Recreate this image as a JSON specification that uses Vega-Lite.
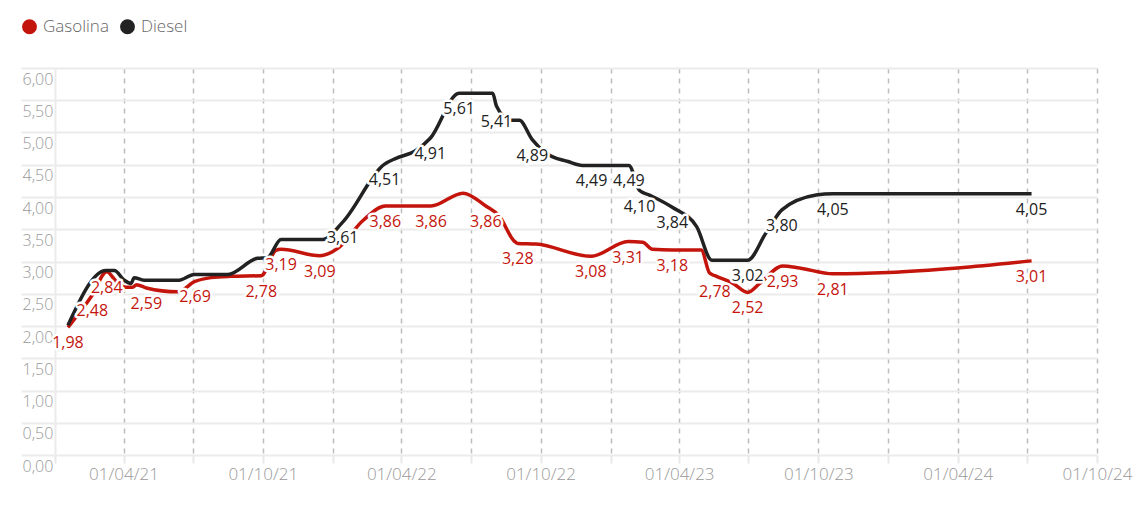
{
  "$schema": "https://vega.github.io/schema/vega-lite/v6.json",
  "autosize": {"type": "none"},
  "padding": {"left": 55, "top": 68, "right": 43, "bottom": 63},
  "width": 1042,
  "height": 387,
  "config": {
    "view": {"stroke": null},
    "font": "Open Sans",
    "locale": {"number": {"decimal": ",", "thousands": ".", "grouping": [3], "currency": ["", " €"]}}
  },
  "data": {"values": [
    {"date": "2021-01-18", "fuel": "Gasolina", "price": 1.98, "lbl": true},
    {"date": "2021-02-19", "fuel": "Gasolina", "price": 2.48, "lbl": true},
    {"date": "2021-03-10", "fuel": "Gasolina", "price": 2.84, "lbl": true},
    {"date": "2021-03-22", "fuel": "Gasolina", "price": 2.70, "lbl": false},
    {"date": "2021-04-04", "fuel": "Gasolina", "price": 2.60, "lbl": false},
    {"date": "2021-04-13", "fuel": "Gasolina", "price": 2.60, "lbl": false},
    {"date": "2021-04-18", "fuel": "Gasolina", "price": 2.64, "lbl": false},
    {"date": "2021-05-01", "fuel": "Gasolina", "price": 2.59, "lbl": true},
    {"date": "2021-06-11", "fuel": "Gasolina", "price": 2.53, "lbl": false},
    {"date": "2021-07-04", "fuel": "Gasolina", "price": 2.69, "lbl": true},
    {"date": "2021-07-25", "fuel": "Gasolina", "price": 2.75, "lbl": false},
    {"date": "2021-08-20", "fuel": "Gasolina", "price": 2.77, "lbl": false},
    {"date": "2021-09-29", "fuel": "Gasolina", "price": 2.78, "lbl": true},
    {"date": "2021-10-18", "fuel": "Gasolina", "price": 3.17, "lbl": false},
    {"date": "2021-10-25", "fuel": "Gasolina", "price": 3.19, "lbl": true},
    {"date": "2021-12-15", "fuel": "Gasolina", "price": 3.09, "lbl": true},
    {"date": "2022-01-07", "fuel": "Gasolina", "price": 3.20, "lbl": false},
    {"date": "2022-02-10", "fuel": "Gasolina", "price": 3.64, "lbl": false},
    {"date": "2022-03-11", "fuel": "Gasolina", "price": 3.86, "lbl": true},
    {"date": "2022-05-10", "fuel": "Gasolina", "price": 3.86, "lbl": true},
    {"date": "2022-06-21", "fuel": "Gasolina", "price": 4.06, "lbl": false},
    {"date": "2022-07-21", "fuel": "Gasolina", "price": 3.86, "lbl": true},
    {"date": "2022-08-08", "fuel": "Gasolina", "price": 3.70, "lbl": false},
    {"date": "2022-08-27", "fuel": "Gasolina", "price": 3.32, "lbl": false},
    {"date": "2022-09-01", "fuel": "Gasolina", "price": 3.28, "lbl": true},
    {"date": "2022-09-25", "fuel": "Gasolina", "price": 3.27, "lbl": false},
    {"date": "2022-12-06", "fuel": "Gasolina", "price": 3.08, "lbl": true},
    {"date": "2023-01-24", "fuel": "Gasolina", "price": 3.31, "lbl": true},
    {"date": "2023-02-12", "fuel": "Gasolina", "price": 3.30, "lbl": false},
    {"date": "2023-02-25", "fuel": "Gasolina", "price": 3.19, "lbl": false},
    {"date": "2023-03-23", "fuel": "Gasolina", "price": 3.18, "lbl": true},
    {"date": "2023-04-30", "fuel": "Gasolina", "price": 3.18, "lbl": false},
    {"date": "2023-05-11", "fuel": "Gasolina", "price": 2.82, "lbl": false},
    {"date": "2023-05-18", "fuel": "Gasolina", "price": 2.78, "lbl": true},
    {"date": "2023-06-11", "fuel": "Gasolina", "price": 2.66, "lbl": false},
    {"date": "2023-06-30", "fuel": "Gasolina", "price": 2.52, "lbl": true},
    {"date": "2023-07-16", "fuel": "Gasolina", "price": 2.66, "lbl": false},
    {"date": "2023-08-15", "fuel": "Gasolina", "price": 2.93, "lbl": true},
    {"date": "2023-09-06", "fuel": "Gasolina", "price": 2.90, "lbl": false},
    {"date": "2023-10-20", "fuel": "Gasolina", "price": 2.81, "lbl": true},
    {"date": "2024-01-01", "fuel": "Gasolina", "price": 2.83, "lbl": false},
    {"date": "2024-04-01", "fuel": "Gasolina", "price": 2.90, "lbl": false},
    {"date": "2024-07-07", "fuel": "Gasolina", "price": 3.01, "lbl": true},
    {"date": "2021-01-18", "fuel": "Diesel", "price": 2.01, "lbl": false},
    {"date": "2021-03-09", "fuel": "Diesel", "price": 2.86, "lbl": false},
    {"date": "2021-03-20", "fuel": "Diesel", "price": 2.86, "lbl": false},
    {"date": "2021-04-02", "fuel": "Diesel", "price": 2.71, "lbl": false},
    {"date": "2021-04-11", "fuel": "Diesel", "price": 2.66, "lbl": false},
    {"date": "2021-04-15", "fuel": "Diesel", "price": 2.75, "lbl": false},
    {"date": "2021-04-28", "fuel": "Diesel", "price": 2.71, "lbl": false},
    {"date": "2021-06-13", "fuel": "Diesel", "price": 2.71, "lbl": false},
    {"date": "2021-07-03", "fuel": "Diesel", "price": 2.80, "lbl": false},
    {"date": "2021-08-16", "fuel": "Diesel", "price": 2.80, "lbl": false},
    {"date": "2021-09-24", "fuel": "Diesel", "price": 3.05, "lbl": false},
    {"date": "2021-10-07", "fuel": "Diesel", "price": 3.06, "lbl": false},
    {"date": "2021-10-25", "fuel": "Diesel", "price": 3.34, "lbl": false},
    {"date": "2021-12-19", "fuel": "Diesel", "price": 3.34, "lbl": false},
    {"date": "2022-01-14", "fuel": "Diesel", "price": 3.61, "lbl": true},
    {"date": "2022-03-10", "fuel": "Diesel", "price": 4.51, "lbl": true},
    {"date": "2022-03-25", "fuel": "Diesel", "price": 4.60, "lbl": false},
    {"date": "2022-04-20", "fuel": "Diesel", "price": 4.72, "lbl": false},
    {"date": "2022-05-09", "fuel": "Diesel", "price": 4.91, "lbl": true},
    {"date": "2022-06-16", "fuel": "Diesel", "price": 5.61, "lbl": true},
    {"date": "2022-07-30", "fuel": "Diesel", "price": 5.61, "lbl": false},
    {"date": "2022-08-04", "fuel": "Diesel", "price": 5.41, "lbl": true},
    {"date": "2022-08-22", "fuel": "Diesel", "price": 5.19, "lbl": false},
    {"date": "2022-09-03", "fuel": "Diesel", "price": 5.19, "lbl": false},
    {"date": "2022-09-20", "fuel": "Diesel", "price": 4.89, "lbl": true},
    {"date": "2022-10-08", "fuel": "Diesel", "price": 4.68, "lbl": false},
    {"date": "2022-11-06", "fuel": "Diesel", "price": 4.55, "lbl": false},
    {"date": "2022-11-25", "fuel": "Diesel", "price": 4.49, "lbl": false},
    {"date": "2022-12-07", "fuel": "Diesel", "price": 4.49, "lbl": true},
    {"date": "2023-01-25", "fuel": "Diesel", "price": 4.49, "lbl": true},
    {"date": "2023-02-08", "fuel": "Diesel", "price": 4.10, "lbl": true},
    {"date": "2023-02-21", "fuel": "Diesel", "price": 4.03, "lbl": false},
    {"date": "2023-03-23", "fuel": "Diesel", "price": 3.84, "lbl": true},
    {"date": "2023-04-24", "fuel": "Diesel", "price": 3.54, "lbl": false},
    {"date": "2023-05-14", "fuel": "Diesel", "price": 3.02, "lbl": false},
    {"date": "2023-06-30", "fuel": "Diesel", "price": 3.02, "lbl": true},
    {"date": "2023-07-24", "fuel": "Diesel", "price": 3.44, "lbl": false},
    {"date": "2023-08-14", "fuel": "Diesel", "price": 3.80, "lbl": true},
    {"date": "2023-09-28", "fuel": "Diesel", "price": 4.03, "lbl": false},
    {"date": "2023-10-20", "fuel": "Diesel", "price": 4.05, "lbl": true},
    {"date": "2024-07-07", "fuel": "Diesel", "price": 4.05, "lbl": true}
  ]},
  "encoding": {
    "x": {
      "field": "date", "type": "temporal",
      "scale": {"type": "utc", "domain": [{"year": 2021, "month": 1, "date": 1, "utc": true}, {"year": 2024, "month": 10, "date": 1, "utc": true}]},
      "axis": {
        "title": null,
        "values": [
          {"year": 2021, "month": 1, "date": 1, "utc": true},
          {"year": 2021, "month": 4, "date": 1, "utc": true},
          {"year": 2021, "month": 7, "date": 1, "utc": true},
          {"year": 2021, "month": 10, "date": 1, "utc": true},
          {"year": 2022, "month": 1, "date": 1, "utc": true},
          {"year": 2022, "month": 4, "date": 1, "utc": true},
          {"year": 2022, "month": 7, "date": 1, "utc": true},
          {"year": 2022, "month": 10, "date": 1, "utc": true},
          {"year": 2023, "month": 1, "date": 1, "utc": true},
          {"year": 2023, "month": 4, "date": 1, "utc": true},
          {"year": 2023, "month": 7, "date": 1, "utc": true},
          {"year": 2023, "month": 10, "date": 1, "utc": true},
          {"year": 2024, "month": 1, "date": 1, "utc": true},
          {"year": 2024, "month": 4, "date": 1, "utc": true},
          {"year": 2024, "month": 7, "date": 1, "utc": true},
          {"year": 2024, "month": 10, "date": 1, "utc": true}
        ],
        "labelExpr": "utcmonth(datum.value) == 3 || utcmonth(datum.value) == 9 ? utcFormat(datum.value, '%d/%m/%y') : ''",
        "domain": false,
        "grid": true,
        "gridColor": "#bdbdbd",
        "gridWidth": 1.5,
        "gridDash": [5, 5],
        "gridOpacity": {"condition": {"test": "utcyear(datum.value) == 2021 && utcmonth(datum.value) == 0", "value": 0}, "value": 1},
        "ticks": true,
        "tickSize": 8,
        "tickColor": "#e8e8e8",
        "tickWidth": 2,
        "labelFont": "Open Sans",
        "labelFontWeight": 300,
        "labelFontSize": 17,
        "labelColor": "#999999",
        "labelBaseline": "middle",
        "labelPadding": 11,
        "labelFlush": false,
        "labelBound": false,
        "labelOverlap": false
      }
    },
    "y": {
      "field": "price", "type": "quantitative",
      "scale": {"domain": [0, 6], "nice": false, "zero": true},
      "axis": {
        "title": null,
        "values": [0, 0.5, 1, 1.5, 2, 2.5, 3, 3.5, 4, 4.5, 5, 5.5, 6],
        "format": ".2f",
        "grid": true,
        "gridColor": "#ebebeb",
        "gridWidth": 2,
        "domain": true,
        "domainColor": "#ebebeb",
        "domainWidth": 2,
        "ticks": true,
        "tickSize": 34,
        "tickColor": "#ebebeb",
        "tickWidth": 2,
        "labelAlign": "left",
        "labelBaseline": "middle",
        "labelOffset": 11,
        "labelPadding": -1,
        "labelFont": "Open Sans",
        "labelFontWeight": 300,
        "labelFontSize": 16,
        "labelColor": "#999999",
        "labelOverlap": false,
        "labelBound": false,
        "labelFlush": false
      }
    }
  },
  "layer": [
    {
      "mark": {"type": "line", "interpolate": "monotone", "strokeWidth": 3.5},
      "encoding": {
        "color": {
          "field": "fuel", "type": "nominal",
          "scale": {"domain": ["Gasolina", "Diesel"], "range": ["#c4150d", "#222222"]},
          "legend": {
            "orient": "none",
            "legendX": -34,
            "legendY": -50,
            "direction": "horizontal",
            "title": null,
            "padding": 0,
            "symbolType": "circle",
            "symbolSize": 220,
            "symbolStrokeWidth": 0,
            "labelFont": "Open Sans",
            "labelFontWeight": 300,
            "labelFontSize": 17,
            "labelColor": "#666666",
            "labelOffset": 5,
            "columnPadding": 10,
            "encode": {"symbols": {"update": {"fill": {"scale": "color", "field": "value"}, "strokeWidth": {"value": 0}}}}
          }
        }
      }
    },
    {
      "transform": [{"filter": "datum.lbl"}],
      "mark": {"type": "text", "dy": 16, "baseline": "middle", "align": "center", "font": "Open Sans", "fontSize": 16, "fill": "white", "stroke": "white", "strokeWidth": 5, "strokeJoin": "round"},
      "encoding": {"text": {"field": "price", "type": "quantitative", "format": ".2f"}}
    },
    {
      "transform": [{"filter": "datum.lbl"}],
      "mark": {"type": "text", "dy": 16, "baseline": "middle", "align": "center", "font": "Open Sans", "fontSize": 16},
      "encoding": {
        "text": {"field": "price", "type": "quantitative", "format": ".2f"},
        "color": {"field": "fuel", "type": "nominal", "scale": {"domain": ["Gasolina", "Diesel"], "range": ["#c4150d", "#222222"]}}
      }
    }
  ]
}
